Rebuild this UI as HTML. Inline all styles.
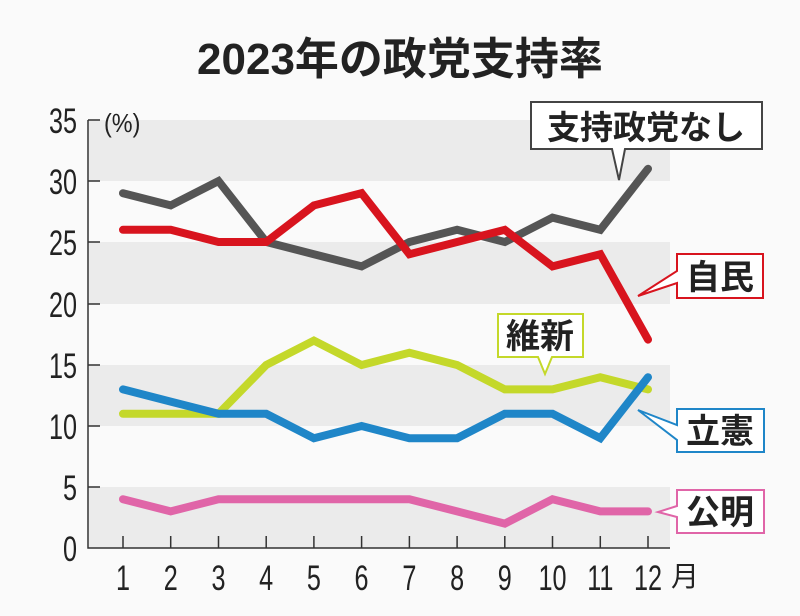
<!DOCTYPE html>
<html><head><meta charset="utf-8"><style>
body{margin:0;background:#fafafa}
svg{display:block}
text{font-family:"Liberation Sans","Noto Sans CJK JP",sans-serif}
</style></head><body>
<svg width="800" height="616" viewBox="0 0 800 616">
<rect width="800" height="616" fill="#fafafa"/>
<text x="400" y="74" text-anchor="middle" font-size="44" font-weight="bold" fill="#222">2023年の政党支持率</text>
<g fill="#ebebeb">
<rect x="89" y="120" width="581" height="61"/>
<rect x="89" y="242" width="581" height="62"/>
<rect x="89" y="365" width="581" height="61"/>
<rect x="89" y="487" width="581" height="61"/>
</g>
<g stroke="#333" stroke-width="1.5" fill="none">
<path d="M88 120V548H670"/>
<path d="M88 120h12M88 181h12M88 242h12M88 304h12M88 365h12M88 426h12M88 487h12"/>
<path d="M123 548v-12M170.7 548v-12M218.5 548v-12M266.2 548v-12M313.9 548v-12M361.6 548v-12M409.4 548v-12M457.1 548v-12M504.8 548v-12M552.5 548v-12M600.3 548v-12M648 548v-12"/>
</g>
<g font-size="35" fill="#222" text-anchor="end" transform="scale(0.72,1)">
<text x="107" y="133">35</text><text x="107" y="194">30</text><text x="107" y="255">25</text><text x="107" y="317">20</text><text x="107" y="378">15</text><text x="107" y="439">10</text><text x="107" y="500">5</text><text x="107" y="561">0</text>
</g>
<text x="104" y="132" font-size="26" fill="#222" transform="translate(104,0) scale(0.9,1) translate(-104,0)">(%)</text>
<g font-size="35" fill="#222" text-anchor="middle">
<g transform="scale(0.72,1)">
<text x="170.8" y="590">1</text><text x="237.1" y="590">2</text><text x="303.5" y="590">3</text><text x="369.7" y="590">4</text><text x="436" y="590">5</text><text x="502.2" y="590">6</text><text x="568.6" y="590">7</text><text x="634.9" y="590">8</text><text x="701.1" y="590">9</text><text x="767.4" y="590">10</text><text x="833.8" y="590">11</text><text x="900" y="590">12</text>
</g>
<text x="685" y="586" font-size="28">月</text>
</g>
<g fill="none" stroke-width="8" stroke-linejoin="miter" stroke-linecap="round">
<polyline stroke="#555" points="123,193.2 170.7,205.4 218.5,181 266.2,242 313.9,254.2 361.6,266.4 409.4,242 457.1,229.8 504.8,242 552.5,217.6 600.3,229.8 648,168.8"/>
<polyline stroke="#d8141e" points="123,229.8 170.7,229.8 218.5,242 266.2,242 313.9,205.4 361.6,193.2 409.4,254.2 457.1,242 504.8,229.8 552.5,266.4 600.3,254.2 648,339.6"/>
<polyline stroke="#c4d82a" points="123,413.8 170.7,413.8 218.5,413.8 266.2,365 313.9,340.6 361.6,365 409.4,352.8 457.1,365 504.8,389.4 552.5,389.4 600.3,377.2 648,389.4"/>
<polyline stroke="#1f86c8" points="123,389.4 170.7,401.6 218.5,413.8 266.2,413.8 313.9,438.2 361.6,426 409.4,438.2 457.1,438.2 504.8,413.8 552.5,413.8 600.3,438.2 648,377.2"/>
<polyline stroke="#e065a8" points="123,499.2 170.7,511.4 218.5,499.2 266.2,499.2 313.9,499.2 361.6,499.2 409.4,499.2 457.1,511.4 504.8,523.6 552.5,499.2 600.3,511.4 648,511.4"/>
</g>
<g stroke-width="2" fill="#fff" font-size="34" font-weight="bold">
<path d="M531 102H762V149H625L619 180L612 149H531Z" stroke="#444"/>
<text x="646" y="139" text-anchor="middle" fill="#222" stroke="none" font-size="33">支持政党なし</text>
<path d="M677 254H763V298H677V283L638 296L677 271Z" stroke="#d8141e"/>
<text x="720" y="289" text-anchor="middle" fill="#222" stroke="none">自民</text>
<path d="M498 314H583V357H552L545 374L538 357H498Z" stroke="#c4d82a"/>
<text x="540" y="348" text-anchor="middle" fill="#222" stroke="none">維新</text>
<path d="M677 409H764V452H677V440L638 410L677 425Z" stroke="#1f86c8"/>
<text x="720" y="443" text-anchor="middle" fill="#222" stroke="none">立憲</text>
<path d="M677 490H764V533H677V517L658 512L677 506Z" stroke="#e065a8"/>
<text x="720" y="524" text-anchor="middle" fill="#222" stroke="none">公明</text>
</g>
</svg>
</body></html>
